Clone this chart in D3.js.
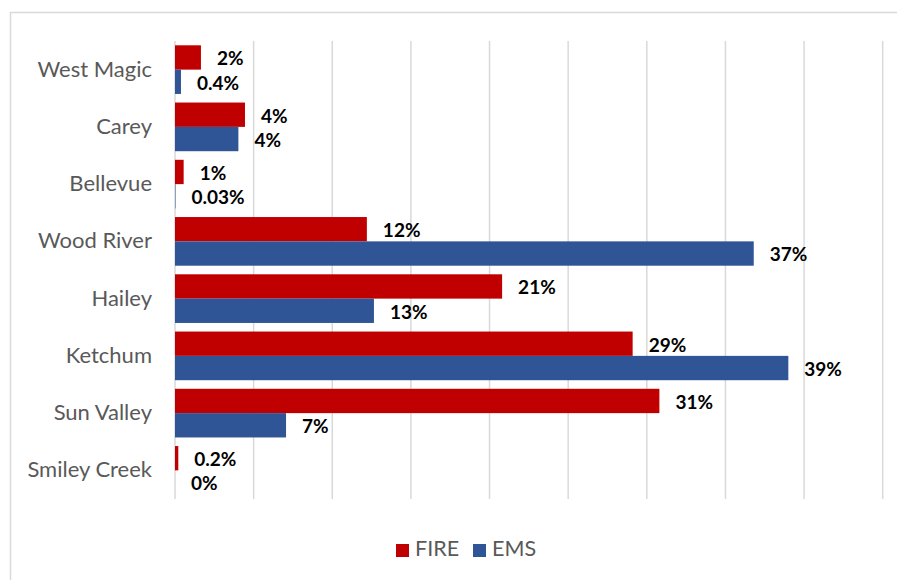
<!DOCTYPE html>
<html>
<head>
<meta charset="utf-8">
<script src="https://cdn.jsdelivr.net/npm/d3@7"></script>
<style>
  body { margin: 0; background: #fff; }
  svg { display: block; }
</style>
</head>
<body>
<svg id="chart" width="897" height="580"></svg>
<script>
// -----------------------------
//  DATA
// -----------------------------
const districts = ["West Magic", "Carey", "Bellevue", "Wood River", "Hailey", "Ketchum", "Sun Valley", "Smiley Creek"];
const fireShare = [1.65, 4.45, 0.55, 12.2, 20.8, 29.1, 30.8, 0.21];
const emsShare  = [0.38, 4.03, 0.03, 36.8, 12.65, 39.0, 7.06, 0];
const fireLabels = ["2%", "4%", "1%", "12%", "21%", "29%", "31%", "0.2%"];
const emsLabels  = ["0.4%", "4%", "0.03%", "37%", "13%", "39%", "7%", "0%"];
const seriesNames = ["FIRE", "EMS"];
const seriesColors = ["#C00000", "#2F5597"];
const xTicks = [0, 5, 10, 15, 20, 25, 30, 35, 40, 45];

const svg = d3.select("#chart");

// chart frame (Excel style, cut off right/bottom)
svg.append("path")
    .attr("d", "M10.5,600 V12.5 H900")
    .attr("fill", "none")
    .attr("stroke", "#d9d9d9")
    .attr("stroke-width", 1.5);

const plot = { left: 175, right: 882.7, top: 41, bottom: 499 };

const x = d3.scaleLinear().domain([0, 45]).range([plot.left, plot.right]);
const y = d3.scaleBand().domain(districts).range([plot.top, plot.bottom]).paddingInner(0.15).paddingOuter(0.075);
const ySub = d3.scaleBand().domain(seriesNames).range([0, y.bandwidth()]);

// gridlines
svg.append("g")
    .selectAll("line")
    .data(xTicks)
    .join("line")
    .attr("x1", d => x(d)).attr("x2", d => x(d))
    .attr("y1", plot.top).attr("y2", plot.bottom)
    .attr("stroke", "#d9d9d9")
    .attr("stroke-width", 1.5);

// category axis
const yAxis = svg.append("g")
    .attr("transform", `translate(${plot.left},0)`)
    .call(d3.axisLeft(y).tickSize(0).tickPadding(23));
yAxis.select(".domain").remove();
yAxis.selectAll("text")
    .attr("font-family", "Lato, 'Open Sans', sans-serif")
    .attr("font-size", "22px")
    .attr("fill", "#595959");

// bars
const rows = districts.map((d, i) => ({
    name: d,
    values: [
        { key: "FIRE", v: fireShare[i], label: fireLabels[i] },
        { key: "EMS", v: emsShare[i], label: emsLabels[i] }
    ]
}));

const group = svg.append("g")
    .selectAll("g")
    .data(rows)
    .join("g")
    .attr("transform", d => `translate(0,${y(d.name)})`);

group.selectAll("rect")
    .data(d => d.values)
    .join("rect")
    .attr("x", x(0))
    .attr("y", d => ySub(d.key))
    .attr("width", d => x(d.v) - x(0))
    .attr("height", ySub.bandwidth())
    .attr("fill", (d, i) => seriesColors[i]);

group.selectAll("text")
    .data(d => d.values)
    .join("text")
    .attr("x", d => x(d.v) + 16)
    .attr("y", d => ySub(d.key) + ySub.bandwidth() / 2 + 3)
    .attr("dominant-baseline", "middle")
    .attr("font-family", "Lato, 'Open Sans', sans-serif")
    .attr("font-weight", "bold")
    .attr("font-size", "19px")
    .attr("fill", "#000")
    .text(d => d.label);

// legend
const legend = svg.append("g")
    .selectAll("g")
    .data(seriesNames)
    .join("g")
    .attr("transform", (d, i) => `translate(${i === 0 ? 396 : 473},544)`);

legend.append("rect")
    .attr("width", 13).attr("height", 13)
    .attr("fill", (d, i) => seriesColors[i]);

legend.append("text")
    .attr("x", 19).attr("y", 6.5)
    .attr("dominant-baseline", "middle")
    .attr("font-family", "Lato, 'Open Sans', sans-serif")
    .attr("font-size", "21.5px")
    .attr("fill", "#595959")
    .text(d => d);
</script>
</body>
</html>
